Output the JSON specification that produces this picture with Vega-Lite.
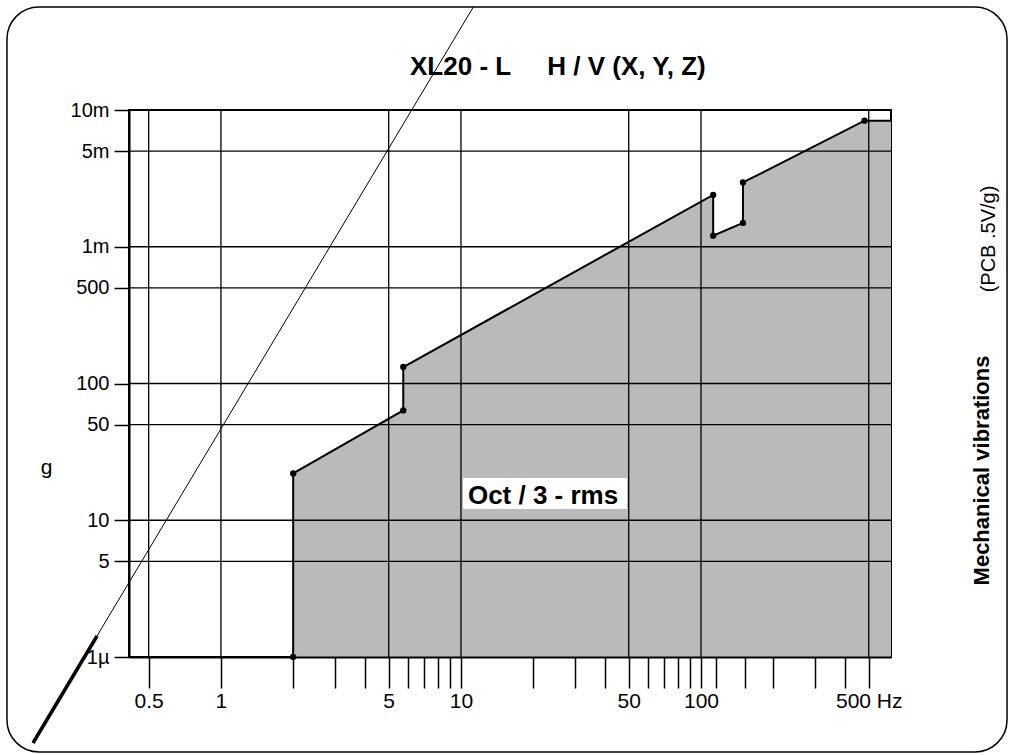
{
  "$schema": "https://vega.github.io/schema/vega-lite/v6.json",
  "width": 762,
  "height": 547,
  "autosize": {"type": "none"},
  "padding": {"left": 129, "top": 110, "right": 120, "bottom": 98},
  "background": "white",
  "config": {
    "view": {"stroke": "black", "strokeWidth": 2},
    "font": "Liberation Sans"
  },
  "datasets": {
    "curve": [
      {"i": 1, "hz": 2, "g": 1},
      {"i": 2, "hz": 2, "g": 22},
      {"i": 3, "hz": 5.75, "g": 63.6},
      {"i": 4, "hz": 5.75, "g": 132},
      {"i": 5, "hz": 112.4, "g": 2394},
      {"i": 6, "hz": 112.4, "g": 1206},
      {"i": 7, "hz": 149.6, "g": 1494},
      {"i": 8, "hz": 149.6, "g": 2951},
      {"i": 9, "hz": 480, "g": 8360},
      {"i": 10, "hz": 619, "g": 8360}
    ],
    "vgrid": [
      {"hz": 0.5}, {"hz": 1}, {"hz": 5}, {"hz": 10}, {"hz": 50}, {"hz": 100}, {"hz": 500}
    ],
    "hgrid": [
      {"g": 5}, {"g": 10}, {"g": 50}, {"g": 100}, {"g": 500}, {"g": 1000}, {"g": 5000}
    ],
    "diag": [
      {"i": 1, "hz": 11.26, "g": 56650},
      {"i": 2, "hz": 0.1648, "g": 0.235}
    ],
    "diagThick": [
      {"i": 1, "hz": 0.3046, "g": 1.424},
      {"i": 2, "hz": 0.1648, "g": 0.235}
    ]
  },
  "layer": [
    {
      "data": {"name": "curve"},
      "transform": [{"filter": "datum.i >= 2"}],
      "mark": {"type": "area", "color": "#bababa", "opacity": 1},
      "encoding": {
        "x": {
          "field": "hz",
          "type": "quantitative",
          "scale": {"type": "log", "domain": [0.414, 619], "nice": false},
          "axis": {
            "values": [0.5, 1, 2, 3, 4, 5, 6, 7, 8, 9, 10, 20, 30, 40, 50, 60, 70, 80, 90, 100, 115, 153, 200, 300, 400, 500],
            "title": null,
            "zindex": 1,
            "domain": true,
            "domainColor": "black",
            "domainWidth": 2,
            "grid": false,
            "ticks": true,
            "tickColor": "black",
            "tickWidth": 1.5,
            "tickSize": 31,
            "labelPadding": 2,
            "labelFont": "Liberation Sans",
            "labelFontSize": 21,
            "labelColor": "black",
            "labelOverlap": false,
            "labelFlush": false,
            "labelBound": false,
            "labelExpr": "datum.value == 500 ? '500 Hz' : (indexof([0.5,1,5,10,50,100], datum.value) >= 0 ? format(datum.value, '~g') : '')",
            "encode": {
              "ticks": {
                "update": {
                  "y2": {"signal": "indexof([0.5,1,5,10,50,100,500], datum.value) >= 0 ? 31 : 12"}
                }
              }
            }
          }
        },
        "y": {
          "field": "g",
          "type": "quantitative",
          "stack": null,
          "scale": {"type": "log", "domain": [1, 10000], "nice": false},
          "axis": {
            "values": [1, 5, 10, 50, 100, 500, 1000, 5000, 10000],
            "title": "g",
            "titleAngle": 0,
            "titleX": -83,
            "titleY": 357,
            "titleAlign": "center",
            "titleBaseline": "middle",
            "titleFont": "Liberation Sans",
            "titleFontSize": 21,
            "titleFontWeight": "normal",
            "titleColor": "black",
            "zindex": 1,
            "domain": true,
            "domainColor": "black",
            "domainWidth": 2,
            "grid": false,
            "tickColor": "black",
            "tickWidth": 1.5,
            "tickSize": 15,
            "labelPadding": 5,
            "labelFont": "Liberation Sans",
            "labelFontSize": 20,
            "labelColor": "black",
            "labelOverlap": false,
            "labelFlush": false,
            "labelBound": false,
            "labelExpr": "datum.value == 1 ? '1µ' : datum.value == 1000 ? '1m' : datum.value == 5000 ? '5m' : datum.value == 10000 ? '10m' : format(datum.value, 'd')"
          }
        },
        "y2": {"datum": 1}
      }
    },
    {
      "data": {"name": "vgrid"},
      "mark": {"type": "rule", "color": "#000000", "strokeWidth": 1.3, "opacity": 1},
      "encoding": {
        "x": {"field": "hz", "type": "quantitative"},
        "y": {"datum": 10000, "type": "quantitative"},
        "y2": {"datum": 1}
      }
    },
    {
      "data": {"name": "hgrid"},
      "mark": {"type": "rule", "color": "#000000", "strokeWidth": 1.3, "opacity": 1},
      "encoding": {
        "y": {"field": "g", "type": "quantitative"},
        "x": {"datum": 0.414, "type": "quantitative"},
        "x2": {"datum": 619}
      }
    },
    {
      "data": {"name": "curve"},
      "mark": {"type": "line", "color": "black", "strokeWidth": 2},
      "encoding": {
        "x": {"field": "hz", "type": "quantitative"},
        "y": {"field": "g", "type": "quantitative"},
        "order": {"field": "i", "type": "quantitative"}
      }
    },
    {
      "data": {"name": "curve"},
      "transform": [{"filter": "datum.i <= 9"}],
      "mark": {"type": "point", "filled": true, "color": "black", "opacity": 1, "size": 40},
      "encoding": {
        "x": {"field": "hz", "type": "quantitative"},
        "y": {"field": "g", "type": "quantitative"}
      }
    },
    {
      "data": {"name": "diag"},
      "mark": {"type": "line", "color": "black", "strokeWidth": 1},
      "encoding": {
        "x": {"field": "hz", "type": "quantitative"},
        "y": {"field": "g", "type": "quantitative"},
        "order": {"field": "i", "type": "quantitative"}
      }
    },
    {
      "data": {"name": "diagThick"},
      "mark": {"type": "line", "color": "black", "strokeWidth": 3.5},
      "encoding": {
        "x": {"field": "hz", "type": "quantitative"},
        "y": {"field": "g", "type": "quantitative"},
        "order": {"field": "i", "type": "quantitative"}
      }
    },
    {
      "data": {"values": [{}]},
      "mark": {"type": "rect", "color": "white", "opacity": 1},
      "encoding": {
        "x": {"datum": 10.2, "type": "quantitative"},
        "x2": {"datum": 49.2},
        "y": {"datum": 20.37, "type": "quantitative"},
        "y2": {"datum": 12.09}
      }
    },
    {
      "data": {"values": [{}]},
      "mark": {"type": "text", "text": "Oct / 3 - rms", "font": "Liberation Sans", "fontSize": 26, "fontWeight": "bold", "color": "black", "align": "center", "baseline": "alphabetic"},
      "encoding": {
        "x": {"datum": 21.98, "type": "quantitative"},
        "y": {"datum": 13.15, "type": "quantitative"}
      }
    },
    {
      "data": {"values": [{}]},
      "mark": {"type": "text", "text": "XL20 - L\u00a0\u00a0\u00a0\u00a0 H / V (X, Y, Z)", "font": "Liberation Sans", "fontSize": 26, "fontWeight": "bold", "color": "black", "align": "left", "baseline": "alphabetic"},
      "encoding": {
        "x": {"datum": 6.135, "type": "quantitative"},
        "y": {"datum": 18030, "type": "quantitative"}
      }
    },
    {
      "data": {"values": [{}]},
      "mark": {"type": "text", "text": "Mechanical vibrations", "font": "Liberation Sans", "fontSize": 22, "fontWeight": "bold", "color": "black", "align": "center", "baseline": "alphabetic", "angle": 270},
      "encoding": {
        "x": {"datum": 1585, "type": "quantitative"},
        "y": {"datum": 23.11, "type": "quantitative"}
      }
    },
    {
      "data": {"values": [{}]},
      "mark": {"type": "text", "text": "(PCB .5V/g)", "font": "Liberation Sans", "fontSize": 20, "fontWeight": "normal", "color": "black", "align": "center", "baseline": "alphabetic", "angle": 270},
      "encoding": {
        "x": {"datum": 1679, "type": "quantitative"},
        "y": {"datum": 1139.6, "type": "quantitative"}
      }
    },
    {
      "data": {"values": [{}]},
      "mark": {"type": "rect", "filled": false, "stroke": "black", "strokeWidth": 1.5, "cornerRadius": 32, "fill": null},
      "encoding": {
        "x": {"datum": 0.1284, "type": "quantitative"},
        "x2": {"datum": 1884},
        "y": {"datum": 56650, "type": "quantitative"},
        "y2": {"datum": 0.202}
      }
    }
  ]
}
